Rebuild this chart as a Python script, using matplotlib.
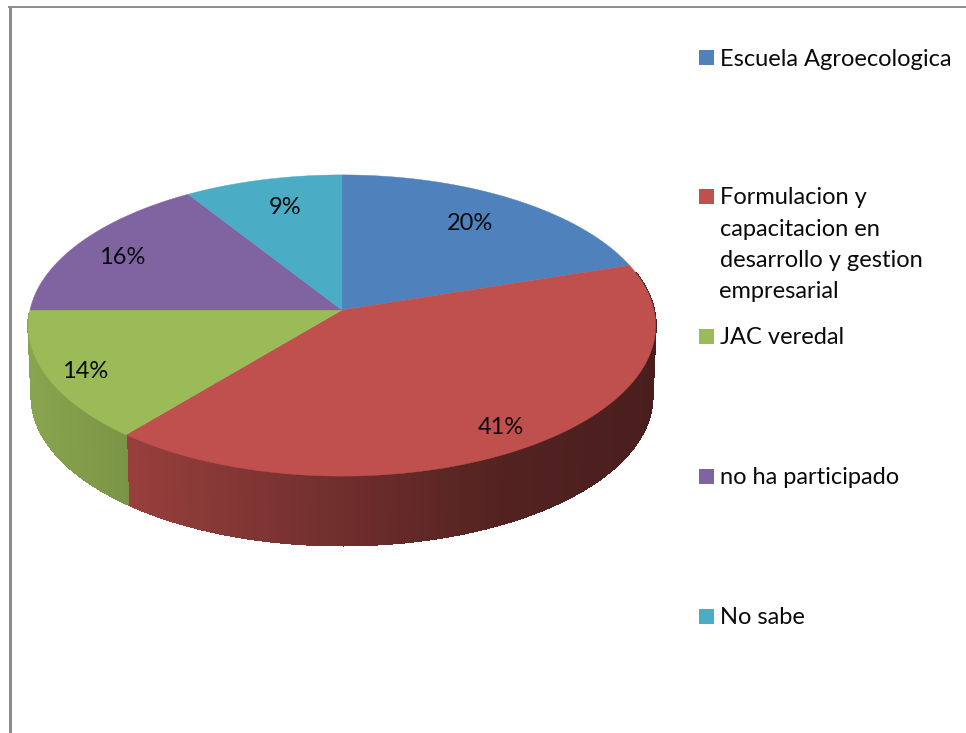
import numpy as np
import matplotlib
matplotlib.use('Agg')
import matplotlib.pyplot as plt
from matplotlib.collections import PolyCollection
from matplotlib.colors import to_rgb
from matplotlib.patches import Polygon, Rectangle

plt.rcParams['font.family'] = ['Lato', 'DejaVu Sans']

categories = ['Escuela Agroecologica', 'Formulacion y\ncapacitacion en\ndesarrollo y gestion\nempresarial',
              'JAC veredal', 'no ha participado', 'No sabe']
values = [20, 41, 14, 16, 9]
colors = ['#4f81bd', '#c0504d', '#9bbb59', '#8064a2', '#4bacc6']

# layout, in pixels of the picture
label_xy = [(470, 223), (501, 428), (85, 371), (122, 258), (285, 207)]
legend_y = [57, 196, 336, 476, 616]
center_x, top_y, bottom_y = 342, 310, 381
radius_x, radius_y = 312, 149
bottom_scale = 0.99
persp = 0.103


# tilted disc with perspective, angle is clockwise from 12 o'clock
def project(theta, r=1.0, cy=top_y, scale=1.0):
    u = r * np.sin(theta)
    v = r * np.cos(theta)
    w = 1 + persp * v
    return center_x + scale * radius_x * u / w, cy - scale * radius_y * v / w


# brightness of the side wall, goes darker to the right
def shade(x):
    return np.interp(x, [30, 128, 342, 500, 655], [0.88, 0.79, 0.58, 0.43, 0.38])


fig = plt.figure(figsize=(9.66, 7.33), dpi=100)
ax = fig.add_axes([0, 0, 1, 1])
ax.set_xlim(0, 966)
ax.set_ylim(733, 0)
ax.axis('off')

# frame of the chart area, cut by the page on the right and bottom
ax.plot([9.5, 9.5], [6, 733], color='#8c8c8c', lw=2.2, solid_capstyle='butt')
ax.plot([8, 966], [7, 7], color='#8c8c8c', lw=1.4, solid_capstyle='butt')

edges = 2 * np.pi * np.concatenate([[0], np.cumsum(values)]) / sum(values)

# side wall strips
polys, poly_colors = [], []
for i in range(len(values)):
    steps = np.linspace(edges[i], edges[i + 1], max(int((edges[i + 1] - edges[i]) * 90), 2))
    for a, b in zip(steps[:-1], steps[1:]):
        mid = (a + b) / 2
        # the wall shows a bit further round on the right than on the left
        if np.cos(mid) > (0.25 if np.sin(mid) > 0 else -0.02):
            continue
        x1, y1 = project(a)
        x2, y2 = project(b)
        x3, y3 = project(b, cy=bottom_y, scale=bottom_scale)
        x4, y4 = project(a, cy=bottom_y, scale=bottom_scale)
        polys.append([(x1, y1), (x2, y2), (x3, y3), (x4, y4)])
        poly_colors.append(tuple(c * shade((x1 + x2) / 2) for c in to_rgb(colors[i])))
ax.add_collection(PolyCollection(polys, facecolors=poly_colors, edgecolors=poly_colors,
                                 linewidths=0.8, antialiaseds=False))

# top face
for i in range(len(values)):
    theta = np.linspace(edges[i], edges[i + 1], 200)
    xs, ys = project(theta)
    pts = np.column_stack([np.r_[center_x, xs], np.r_[top_y, ys]])
    ax.add_patch(Polygon(pts, closed=True, facecolor=colors[i], edgecolor=colors[i], lw=0.3))

for val, (x, y) in zip(values, label_xy):
    ax.text(x, y, '%d%%' % val, ha='center', va='center', fontsize=17, color='#0a0a0a')

# legend
for cat, col, y in zip(categories, colors, legend_y):
    ax.add_patch(Rectangle((699, y - 7.5), 15, 15, facecolor=col, edgecolor='none'))
    for j, line in enumerate(cat.split('\n')):
        ax.text(719.5, y + 2 + j * 31.3, line, ha='left', va='center', fontsize=17, color='#0a0a0a')

fig.savefig('out.png', dpi=100)
